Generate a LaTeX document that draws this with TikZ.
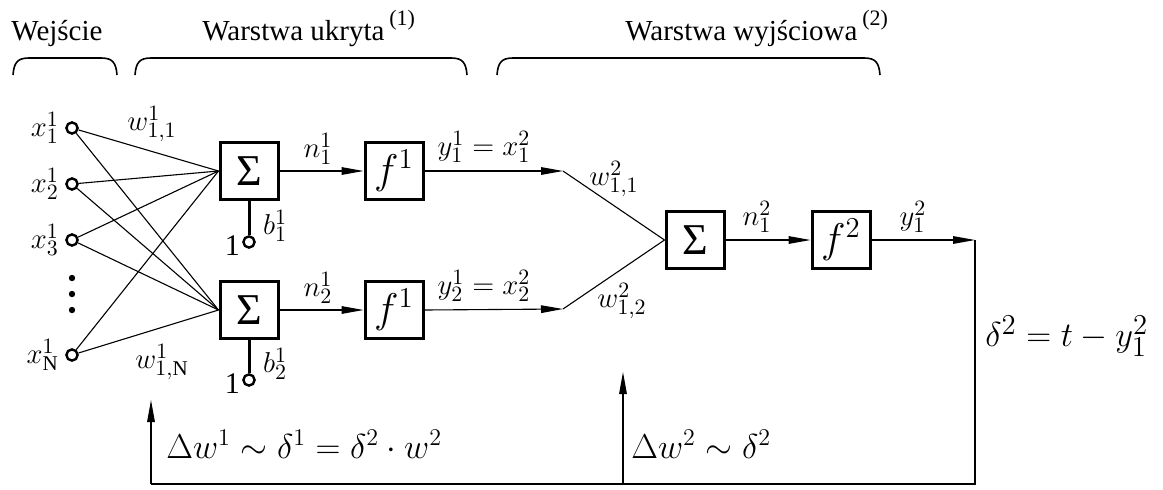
\documentclass[tikz,border=0pt]{standalone}
\usepackage{fontspec}
\setmainfont{Liberation Serif}
\usetikzlibrary{arrows.meta}
\begin{document}
\begin{tikzpicture}[x=0.5pt,y=-0.5pt,
  every node/.style={font=\fontsize{15}{18}\selectfont, inner sep=0pt},
  head/.style={font=\fontsize{14.5}{17}\selectfont},
  box/.style={draw, line width=1.5pt, minimum width=29pt, minimum height=28.5pt, font=\fontsize{22}{24}\selectfont},
  inp/.style={draw, circle, line width=1.2pt, minimum size=5.6pt, inner sep=0pt},
  conn/.style={line width=0.55pt},
  arr/.style={line width=0.55pt, -{Triangle[length=11pt,width=3.8pt]}},
  biasline/.style={line width=1.5pt},
  brace/.style={line width=0.8pt},
  big/.style={font=\fontsize{19}{22}\selectfont},
  mid/.style={font=\fontsize{16.5}{20}\selectfont},
]
\useasboundingbox (0,0) rectangle (1163,489);

% headings
\node[head, anchor=base] (hin) at (57,40) {Wejście};
\node[head, anchor=base west] (hhid) at (202,40) {Warstwa ukryta\,\raisebox{1.1ex}{\fontsize{11}{11}\selectfont(1)}};
\node[head, anchor=base west] (hout) at (625,40) {Warstwa wyjściowa\,\raisebox{1.1ex}{\fontsize{11}{11}\selectfont(2)}};

% braces
\draw[brace] (13,75) .. controls (14,63) and (17,58) .. (29,58) -- (101,58) .. controls (113,58) and (116,63) .. (117,75);
\draw[brace] (135,75) .. controls (136,63) and (139,58) .. (151,58) -- (451,58) .. controls (463,58) and (466,63) .. (467,75);
\draw[brace] (497,75) .. controls (498,63) and (501,58) .. (513,58) -- (864,58) .. controls (876,58) and (879,63) .. (880,75);

% inputs
\node[inp] (i1) at (72,128) {};
\node[inp] (i2) at (72,184) {};
\node[inp] (i3) at (72,240) {};
\node[inp] (iN) at (72,355) {};
\node[anchor=east] (lx1) at ([xshift=-3pt]i1.west) {$x_1^1$};
\node[anchor=east] (lx2) at ([xshift=-3pt]i2.west) {$x_2^1$};
\node[anchor=east] (lx3) at ([xshift=-3pt]i3.west) {$x_3^1$};
\node[anchor=east] (lxN) at ([xshift=-3pt]iN.west) {$x_{\mathrm{N}}^1$};
\foreach \yy in {278,294,310} {
  \fill (72,\yy) circle (1.6pt);
}

% hidden layer boxes
\node[box] (s1) at (249,171) {Σ};
\node[box] (s2) at (249,310) {Σ};
\node[box] (f1) at (394,171) {$f^1$};
\node[box] (f2) at (394,310) {$f^1$};

% input connections
\foreach \i in {i1,i2,i3,iN} {
  \draw[conn] (\i) -- (s1.west);
  \draw[conn] (\i) -- (s2.west);
}
\node (w11) at (152,124) {$w_{1,1}^1$};
\node (w1N) at (162,362) {$w_{1,\mathrm{N}}^1$};

% biases
\node[inp] (c1) at (249,242) {};
\node[inp] (c2) at (249,380) {};
\draw[biasline] (s1.south) -- (c1.north);
\draw[biasline] (s2.south) -- (c2.north);
\node[anchor=east] (one1) at ([xshift=-1pt,yshift=-2pt]c1.west) {1};
\node[anchor=east] (one2) at ([xshift=-1pt,yshift=-2pt]c2.west) {1};
\node (b1) at (275,226) {$b_1^1$};
\node (b2) at (275,364) {$b_2^1$};

% hidden arrows
\draw[arr] (s1.east) -- (f1.west);
\draw[arr] (s2.east) -- (f2.west);
\node[anchor=south] (n11) at (318,165) {$n_1^1$};
\node[anchor=south] (n21) at (318,304) {$n_2^1$};

\coordinate (a1) at (563,171);
\coordinate (a2) at (563,309);
\draw[arr] (f1.east) -- (a1);
\draw[arr] (f2.east) -- (a2);
\node[anchor=south] (y11) at (484,163) {$y_1^1=x_1^2$};
\node[anchor=south] (y21) at (484,302) {$y_2^1=x_2^2$};

% output layer
\node[box] (s3) at (695,240) {Σ};
\node[box] (f3) at (841,240) {$f^2$};
\draw[conn] (a1) -- (s3.west);
\draw[conn] (a2) -- (s3.west);
\node (w211) at (614,179) {$w_{1,1}^2$};
\node (w212) at (622,301) {$w_{1,2}^2$};
\draw[arr] (s3.east) -- (f3.west);
\node[anchor=south] (n12) at (757,233) {$n_1^2$};
\coordinate (out) at (975,240);
\draw[arr] (f3.east) -- (out);
\node[anchor=south] (y12) at (913,233) {$y_1^2$};

% feedback
\coordinate (br) at (975,484);
\coordinate (bm) at (623,484);
\coordinate (bl) at (151,484);
\coordinate (tl) at (151,400);
\coordinate (tm) at (623,372);
\draw[conn] (out) -- (br) -- (bl);
\draw[arr] (bl) -- (tl);
\draw[arr] (bm) -- (tm);
\node[big, anchor=west] (err) at (985,336) {$\delta^2=t-y_1^2$};
\node[mid, anchor=base west] (dw1) at (166,458) {$\Delta w^1\sim\delta^1=\delta^2\cdot w^2$};
\node[mid, anchor=base west] (dw2) at (631,458) {$\Delta w^2\sim\delta^2$};
\end{tikzpicture}
\end{document}
